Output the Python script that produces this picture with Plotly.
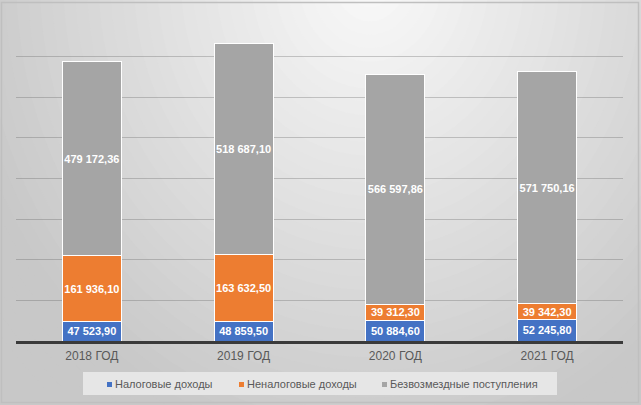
## Доходы бюджета 2018-2021: столбчатая диаграмма с накоплением
import plotly.graph_objects as go

## Данные
years = ['2018 ГОД', '2019 ГОД', '2020 ГОД', '2021 ГОД']
nalog = [47523.90, 48859.50, 50884.60, 52245.80]
nenalog = [161936.10, 163632.50, 39312.30, 39342.30]
bezvozm = [479172.36, 518687.10, 566597.86, 571750.16]

series_names = ['Налоговые доходы', 'Неналоговые доходы', 'Безвозмездные поступления']
series_colors = ['#4472C4', '#ED7D31', '#A5A5A5']


def fmt(v):
    # 47 523,90
    return f'{v:,.2f}'.replace(',', ' ').replace('.', ',')


W, H = 641, 405
L, R, T, B = 16, 18, 16, 64
PW, PH = W - L - R, H - T - B

fig = go.Figure()
for name, vals, col in zip(series_names, [nalog, nenalog, bezvozm], series_colors):
    fig.add_trace(go.Bar(
        x=years, y=vals, name=name,
        marker=dict(color=col, line=dict(color='white', width=1)),
        text=[fmt(v) for v in vals],
        textposition='inside', insidetextanchor='middle', textangle=0,
        textfont=dict(color='white', size=11, family='Liberation Sans', weight='bold'),
        hoverinfo='skip', showlegend=False,
    ))


## перевод пикселей в координаты paper
def px_x(p):
    return (p - L) / PW


def px_y(p):
    return (H - B - p) / PH


## Фон с градиентом (эллипсы от светлого центра к серым краям)
cx, cy, ax, ay = 370, -20, 420, 480
shapes = []
steps = 40
for i in range(steps):
    d = 1.15 - i * (1.12 / steps)
    g = int(round(max(200, min(250, 250 - 50 * d))))
    shapes.append(dict(
        type='circle', xref='paper', yref='paper', layer='below',
        x0=px_x(cx - ax * d), x1=px_x(cx + ax * d),
        y0=px_y(cy + ay * d), y1=px_y(cy - ay * d),
        fillcolor=f'rgb({g},{g},{g})', line=dict(width=0),
    ))
## рамка диаграммы
shapes.append(dict(
    type='rect', xref='paper', yref='paper', layer='below',
    x0=px_x(1.5), x1=px_x(638.5), y0=px_y(402.5), y1=px_y(2.5),
    line=dict(color='#bfbfbf', width=1.5), fillcolor='rgba(0,0,0,0)',
))

## Легенда вручную (как в Excel: маленький квадрат и текст рядом)
shapes.append(dict(
    type='rect', xref='paper', yref='paper', layer='below',
    x0=px_x(83), x1=px_x(557), y0=px_y(395), y1=px_y(372),
    fillcolor='#e6e6e6', line=dict(width=0),
))
annotations = []
for name, col, mx in zip(series_names, series_colors, [107, 239, 382]):
    shapes.append(dict(
        type='rect', xref='paper', yref='paper', layer='above',
        x0=px_x(mx), x1=px_x(mx + 5), y0=px_y(387), y1=px_y(382),
        fillcolor=col, line=dict(width=0),
    ))
    annotations.append(dict(
        text=name, xref='paper', yref='paper', showarrow=False,
        x=px_x(mx + 6), y=px_y(384), xanchor='left', yanchor='middle',
        font=dict(size=11, color='#595959'),
    ))

fig.update_layout(
    width=W, height=H,
    margin=dict(l=L, r=R, t=T, b=B, autoexpand=False),
    barmode='stack', bargap=0.61,
    paper_bgcolor='#c8c8c8', plot_bgcolor='rgba(0,0,0,0)',
    font=dict(family='Liberation Sans', size=11, color='#595959'),
    uniformtext=dict(minsize=11, mode='show'),
    shapes=shapes, annotations=annotations,
    showlegend=False,
)

fig.update_xaxes(showline=True, linewidth=2.5, linecolor='#3a3a3a', automargin=False,
                 showgrid=False, ticks='', ticklabelstandoff=2,
                 tickfont=dict(size=12, color='#595959'))
fig.update_yaxes(range=[0, 800000], dtick=100000, showticklabels=False, automargin=False,
                 showgrid=True, gridcolor='rgba(90,90,90,0.3)', gridwidth=1,
                 zeroline=False, showline=False)

## убираем отступ body, чтобы картинка начиналась с левого верхнего угла
fig.write_html('out.html', config={'displayModeBar': False},
               post_script="document.body.style.margin='0';")
